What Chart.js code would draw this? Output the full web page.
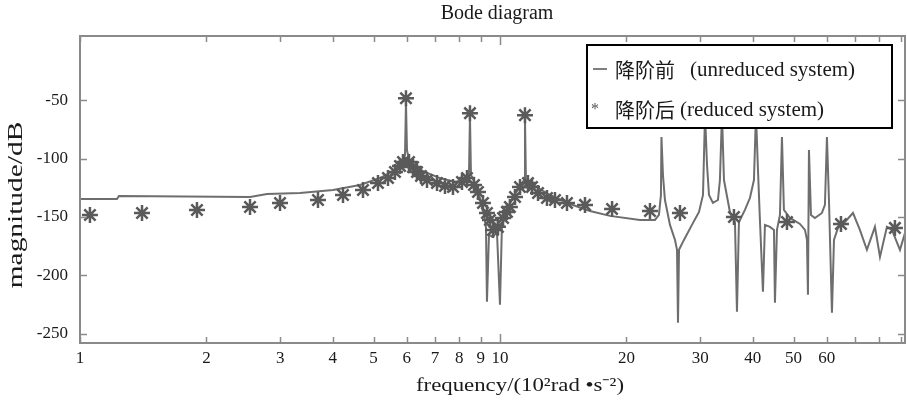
<!DOCTYPE html>
<html>
<head>
<meta charset="utf-8">
<script src="https://cdn.jsdelivr.net/npm/chart.js@4.4.0/dist/chart.umd.min.js"></script>
<style>
  html, body { margin: 0; padding: 0; background: #fff; }
  #wrap { width: 907px; height: 404px; }
</style>
</head>
<body>
<div id="wrap"><canvas id="bode"></canvas></div>
<script>
// axis ticks
var freqTicks = [1, 2, 3, 4, 5, 6, 7, 8, 9, 10, 20, 30, 40, 50, 60, 70, 80, 90];
var freqLabels = [1, 2, 3, 4, 5, 6, 7, 8, 9, 10, 20, 30, 40, 50, 60];
var magTicks = [-250, -200, -150, -100, -50];

// unreduced system (solid line)
var fullFreq = [1.000, 1.225, 1.238, 2.540, 2.788, 3.340, 4.004, 4.642, 5.179, 5.623,
  5.843, 5.941, 5.973, 6.006, 6.073, 6.208, 6.449, 7.197, 7.814, 8.254,
  8.437, 8.483, 8.531, 8.767, 8.961, 9.161, 9.262, 9.312, 9.415, 9.623,
  9.837, 10.00, 10.11, 10.39, 10.74, 11.10, 11.41, 11.47, 11.53, 12.12,
  13.15, 14.68, 16.38, 18.28, 21.54, 23.39, 23.91, 24.17, 24.24, 24.44,
  24.71, 25.40, 26.11, 26.40, 26.54, 26.69, 27.42, 28.65, 29.78, 30.44,
  30.78, 31.12, 31.46, 32.14, 33.04, 33.40, 33.78, 34.15, 35.28, 36.27,
  36.67, 37.07, 38.31, 39.37, 40.25, 40.70, 41.15, 41.59, 42.29, 42.75,
  43.94, 44.92, 45.16, 45.66, 46.42, 46.93, 47.44, 49.04, 51.80, 53.24,
  53.83, 54.12, 54.42, 55.02, 56.23, 58.43, 59.40, 60.06, 60.73, 61.73,
  62.42, 63.80, 66.29, 69.27, 71.95, 74.77, 78.14, 80.33, 83.45, 85.77,
  89.63, 92.14];
var fullMag = [-134.6, -134.6, -132.1, -132.9, -130.3, -129.5, -126.9, -122.6, -116.7, -109.8,
  -103.8, -97.0, -51.7, -92.7, -101.3, -105.6, -109.8, -116.7, -120.1, -118.4,
  -114.1, -63.7, -114.1, -122.6, -133.8, -148.3, -159.4, -222.6, -165.4, -167.1,
  -162.8, -225.2, -156.8, -144.0, -132.9, -125.2, -118.4, -65.4, -118.4, -123.5,
  -131.2, -138.9, -144.9, -149.1, -152.6, -152.6, -148.3, -131.2, -81.6, -114.1,
  -135.5, -156.8, -169.7, -178.2, -240.6, -178.2, -169.7, -156.8, -145.7, -131.2,
  -62.0, -105.6, -131.2, -138.0, -135.5, -118.4, -62.0, -118.4, -145.7, -154.3,
  -231.2, -154.3, -144.0, -133.8, -118.4, -62.0, -109.8, -152.6, -214.1, -156.8,
  -158.5, -161.1, -223.5, -161.1, -148.3, -81.6, -144.0, -150.9, -156.0, -161.1,
  -169.7, -216.7, -92.7, -148.3, -150.9, -146.6, -139.7, -81.6, -135.5, -232.1,
  -169.7, -159.4, -154.3, -146.6, -161.1, -178.2, -158.5, -184.2, -158.5, -161.1,
  -178.2, -163.7];

// reduced system (asterisks)
var redFreq = [1.056, 1.405, 1.899, 2.540, 2.994, 3.687, 4.229, 4.719, 5.123, 5.412,
  5.623, 5.780, 5.876, 5.973, 6.073, 6.208, 6.345, 6.486, 6.703, 7.080,
  7.397, 7.729, 8.120, 8.346, 8.483, 8.672, 8.864, 9.110, 9.312, 9.467,
  9.624, 9.891, 10.17, 10.39, 10.56, 10.86, 11.16, 11.47, 11.66, 11.92,
  12.32, 12.94, 13.52, 14.44, 15.94, 18.49, 22.76, 26.83, 36.07, 48.24,
  64.86, 87.19];
var redMag = [-148.3, -146.6, -144.0, -141.5, -138.0, -135.5, -131.2, -126.9, -120.9, -116.7,
  -111.5, -106.4, -103.0, -48.3, -103.0, -107.3, -111.5, -115.0, -118.4, -120.9,
  -123.5, -124.4, -120.1, -116.7, -61.1, -122.6, -128.6, -138.0, -146.6, -152.6,
  -161.1, -158.5, -150.9, -145.7, -141.5, -132.9, -124.4, -62.8, -120.9, -124.4,
  -129.5, -133.8, -135.5, -138.0, -139.7, -143.2, -144.9, -146.6, -150.0, -154.3,
  -156.0, -159.4];

var serif = '"Liberation Serif", "Times New Roman", serif';
var cjk = '"Noto Sans CJK SC", sans-serif';

function pts(xs, ys) {
  return xs.map(function (x, i) { return { x: x, y: ys[i] }; });
}

// text stretched along its baseline (the scan is wider than tall)
function wideText(ctx, txt, x, y, sx) {
  ctx.save();
  ctx.translate(x, y);
  ctx.scale(sx, 1);
  ctx.fillText(txt, 0, 0);
  ctx.restore();
}

// frame, inward ticks, titles and the boxed legend
var decor = {
  id: 'decor',
  afterDraw: function (chart) {
    var ctx = chart.ctx, ca = chart.chartArea;
    var xs = chart.scales.x, ys = chart.scales.y;
    ctx.save();

    ctx.strokeStyle = '#8a8a8a';
    ctx.lineWidth = 2;
    ctx.strokeRect(ca.left, ca.top, ca.right - ca.left, ca.bottom - ca.top);

    ctx.lineWidth = 1.5;
    ctx.beginPath();
    freqTicks.forEach(function (v) {
      var px = Math.round(xs.getPixelForValue(v)) + 0.5;
      var len = v === 10 ? 9 : 6;
      ctx.moveTo(px, ca.bottom); ctx.lineTo(px, ca.bottom - len);
      ctx.moveTo(px, ca.top); ctx.lineTo(px, ca.top + len);
    });
    magTicks.forEach(function (v) {
      var py = Math.round(ys.getPixelForValue(v)) + 0.5;
      ctx.moveTo(ca.left, py); ctx.lineTo(ca.left + 7, py);
      ctx.moveTo(ca.right, py); ctx.lineTo(ca.right - 7, py);
    });
    ctx.stroke();

    ctx.fillStyle = '#1a1a1a';
    ctx.textAlign = 'center';
    ctx.textBaseline = 'middle';
    ctx.font = '20px ' + serif;
    wideText(ctx, 'Bode diagram', 497, 14, 1.0);
    ctx.font = '19px ' + serif;
    wideText(ctx, 'frequency/(10\u00b2rad \u2022s\u207b\u00b2)', 520, 386, 1.2);

    ctx.save();
    ctx.translate(16, 205);
    ctx.rotate(-Math.PI / 2);
    ctx.font = '21px ' + serif;
    wideText(ctx, 'magnitude/dB', 0, 0, 1.4);
    ctx.restore();

    // legend
    var bw = 305, bh = 83;
    var bx = ca.right - 13 - bw, by = ca.top + 9;
    ctx.fillStyle = '#fff';
    ctx.fillRect(bx, by, bw, bh);
    ctx.strokeStyle = '#000';
    ctx.lineWidth = 2;
    ctx.strokeRect(bx, by, bw, bh);

    var r1 = by + 25, r2 = by + 65;
    ctx.strokeStyle = '#555';
    ctx.lineWidth = 1.5;
    ctx.beginPath();
    ctx.moveTo(bx + 6, r1 - 1); ctx.lineTo(bx + 20, r1 - 1);
    ctx.stroke();

    ctx.textAlign = 'left';
    ctx.fillStyle = '#1a1a1a';
    ctx.font = '20px ' + cjk;
    ctx.fillText('降阶前', bx + 28, r1);
    ctx.fillText('降阶后', bx + 28, r2);
    ctx.font = '21px ' + serif;
    ctx.fillText('(unreduced system)', bx + 103, r1);
    ctx.fillText('(reduced system)', bx + 93, r2);
    ctx.fillStyle = '#555';
    ctx.font = '16px ' + serif;
    ctx.fillText('*', bx + 4, r2);

    ctx.restore();
  }
};

new Chart(document.getElementById('bode'), {
  type: 'scatter',
  data: {
    datasets: [{
      label: '降阶后 (reduced system)',
      data: pts(redFreq, redMag),
      showLine: false,
      pointStyle: 'star',
      pointRadius: 8,
      pointBorderWidth: 2.5,
      borderColor: '#5a5a5a',
      backgroundColor: '#5a5a5a',
      order: 0
    }, {
      label: '降阶前 (unreduced system)',
      data: pts(fullFreq, fullMag),
      showLine: true,
      pointRadius: 0,
      borderColor: '#6e6e6e',
      borderWidth: 2,
      tension: 0,
      order: 1
    }]
  },
  options: {
    responsive: true,
    maintainAspectRatio: false,
    animation: false,
    layout: { autoPadding: false, padding: { top: 36, right: 2, left: 0, bottom: 0 } },
    plugins: {
      legend: { display: false },
      title: { display: false },
      tooltip: { enabled: false }
    },
    scales: {
      x: {
        type: 'logarithmic',
        min: 1,
        max: 92.14,
        grid: { display: false, drawTicks: false },
        border: { display: false },
        afterBuildTicks: function (s) {
          s.ticks = freqTicks.map(function (v) { return { value: v }; });
        },
        afterFit: function (s) { s.height = 61; },
        ticks: {
          autoSkip: false,
          maxRotation: 0,
          padding: 5,
          color: '#1a1a1a',
          font: { family: serif, size: 17 },
          callback: function (v) { return freqLabels.indexOf(v) >= 0 ? String(v) : ''; }
        }
      },
      y: {
        min: -258,
        max: 5,
        grid: { display: false, drawTicks: false },
        border: { display: false },
        afterBuildTicks: function (s) {
          s.ticks = magTicks.map(function (v) { return { value: v }; });
        },
        afterFit: function (s) { s.width = 80; },
        ticks: {
          padding: 12,
          color: '#1a1a1a',
          font: { family: serif, size: 17 }
        }
      }
    }
  },
  plugins: [decor]
});
</script>
</body>
</html>
